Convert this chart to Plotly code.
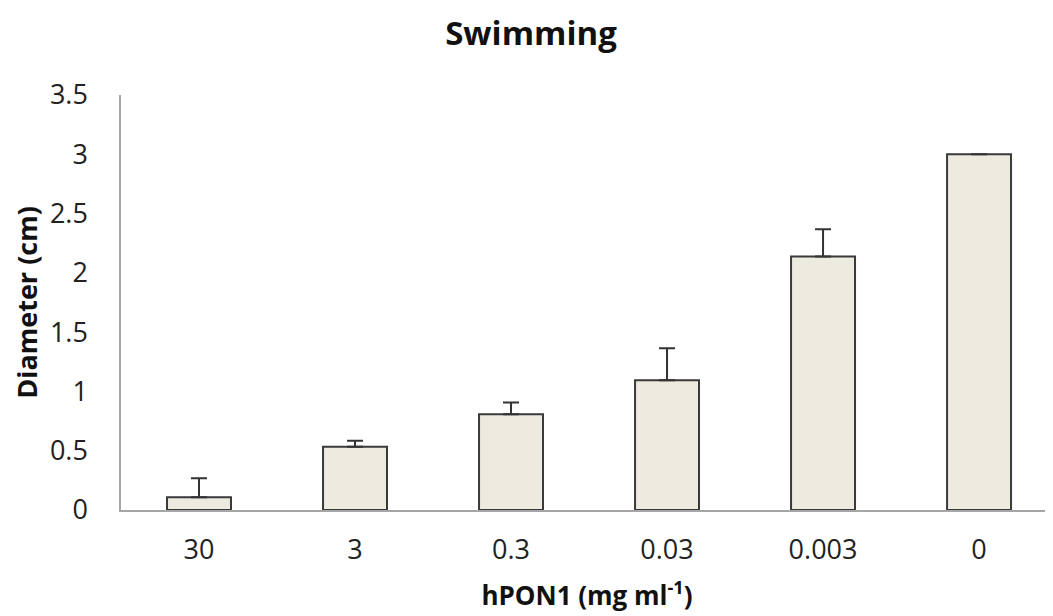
import plotly.graph_objects as go

categories = ["30", "3", "0.3", "0.03", "0.003", "0"]
diameter = [0.107, 0.534, 0.807, 1.094, 2.137, 3.0]
error_up = [0.16, 0.05, 0.10, 0.27, 0.23, 0.0]
error_down = [0, 0, 0, 0, 0, 0]
y_ticks = [0, 0.5, 1, 1.5, 2, 2.5, 3, 3.5]
y_tick_labels = ["0", "0.5", "1", "1.5", "2", "2.5", "3", "3.5"]

FONT = "Open Sans"

fig = go.Figure()
fig.add_trace(go.Bar(
    x=categories,
    y=diameter,
    marker=dict(color="#EDEBE0", line=dict(color="#3a3a3a", width=2)),
    error_y=dict(type="data", symmetric=False, array=error_up, arrayminus=error_down,
                 color="#333333", thickness=2, width=8),
    showlegend=False,
))

fig.update_layout(
    width=1045, height=608,
    paper_bgcolor="white", plot_bgcolor="white",
    margin=dict(l=113, r=0, t=87, b=106, autoexpand=False),
    bargap=0.59,
    title=dict(text="<b>Swimming</b>", x=0.5005, xref="container", xanchor="center",
               y=0.958, yref="container", yanchor="middle",
               font=dict(family=FONT, size=33, color="#111111")),
    font=dict(family=FONT, color="#222222"),
)

fig.update_xaxes(
    type="category",
    range=[-0.5, 5.474],
    showline=True, linecolor="#a6a6a6", linewidth=2,
    showgrid=False, zeroline=False, ticks="",
    ticklabelstandoff=15,
    tickfont=dict(family=FONT, size=27, color="#222222"),
    title=dict(text="<b>hPON1 (mg ml<sup>-1</sup>)</b>", standoff=20,
               font=dict(family=FONT, size=26, color="#111111")),
)
fig.update_yaxes(
    range=[0, 3.5],
    tickvals=y_ticks, ticktext=y_tick_labels,
    showline=True, linecolor="#a6a6a6", linewidth=1.5,
    showgrid=False, zeroline=False, ticks="",
    ticklabelstandoff=26,
    tickfont=dict(family=FONT, size=27, color="#222222"),
    title=dict(text="<b>Diameter (cm)</b>", standoff=24,
               font=dict(family=FONT, size=27, color="#111111")),
)

fig.write_html("out.html")
